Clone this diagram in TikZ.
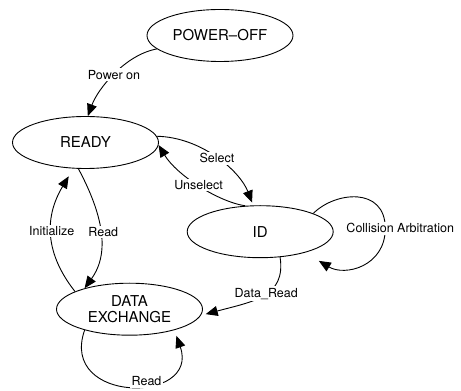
\documentclass[tikz,border=0pt]{standalone}
\usepackage{fontspec}
\setmainfont{TeX Gyre Heros}
\usetikzlibrary{shapes.geometric,arrows.meta}

\begin{document}
\begin{tikzpicture}[x = 1pt, y = 1pt, line width = 0.9pt,
state/.style = {draw, shape = ellipse, inner sep = 0pt, minimum width = 146pt, minimum height = 52pt, align = center, font = \fontsize{15}{16.5}\selectfont},
lbl/.style = {fill = white, inner sep = 1.5pt, font = \fontsize{12.5}{14}\selectfont},
arr/.style = {-{Triangle[length = 12pt, width = 10pt]}}]
\useasboundingbox (0,0) rectangle (461,391);
\node[state] (poweroff) at (220,355.5) {POWER--OFF};
\node[state] (ready) at (85.5,248.5) {READY};
\node[state] (id) at (260.2,159.3) {ID};
\node[state] (dataexch) at (129.5,81.8) {DATA\\EXCHANGE};
\begin{scope}[arr]
\draw (poweroff.192) .. controls +(-32,-6) and +(10,27) .. (ready.85) node [lbl, pos = 0.5] {Power on};
\draw[shorten > = 3pt] (ready.5) .. controls +(45,-1) and +(-13,34) .. (id.105) node [lbl, pos = 0.5] {Select};
\draw (id.120) .. controls +(-27,4) and +(18,-30) .. (ready.-2) node [lbl, pos = 0.5] {Unselect};
\draw[shorten > = 16pt] (id.19) .. controls +(22,22) and +(0,42) .. ++(72,-15) node [lbl, xshift = 15pt] {Collision Arbitration}
  .. controls +(0,-38) and +(40,-24) .. (id.-25);
\draw[shorten > = 5pt] (id.-52) .. controls +(6,-40) and +(52,14) .. (dataexch.-5) node [lbl, pos = 0.45] {Data\_Read};
\draw[shorten > = 9pt] (dataexch.162) .. controls +(-33,42) and +(-27,-45) .. (ready.245) node [lbl, pos = 0.5] {Initialize};
\draw (ready.255) .. controls +(24,-45) and +(26,36) .. (dataexch.155) node [lbl, pos = 0.5, xshift = 3pt] {Read};
\draw[shorten > = 6pt] (dataexch.205) .. controls +(-26,-74) and +(26,-74) .. (dataexch.335) node [lbl, pos = 0.6, yshift = 2pt] {Read};
\end{scope}
\end{tikzpicture}
\end{document}
